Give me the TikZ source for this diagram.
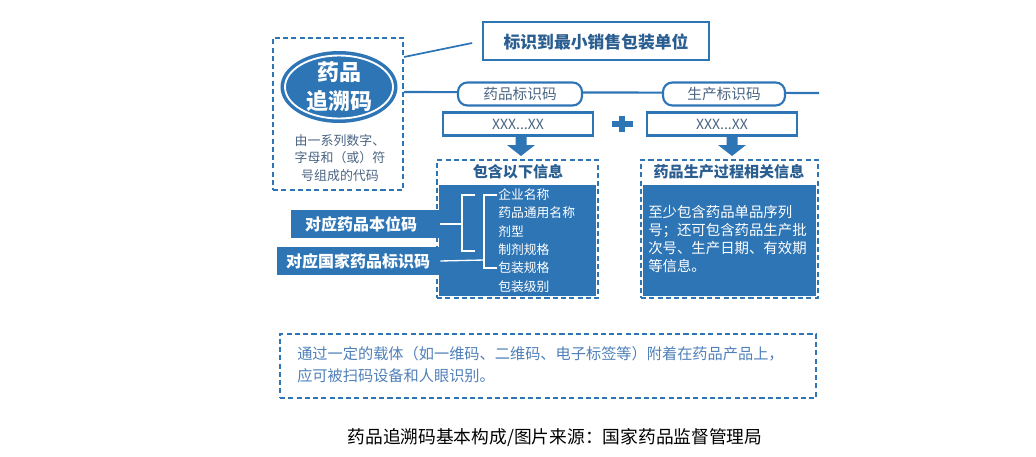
\documentclass[tikz,border=0pt]{standalone}
\usepackage{fontspec}
\setmainfont{Noto Sans CJK SC}
\usetikzlibrary{shapes.geometric,calc}
\definecolor{mblue}{HTML}{2E75B6}
\definecolor{dblue}{HTML}{2A5D90}
\definecolor{gtext}{HTML}{4A6482}
\definecolor{ltext}{HTML}{4F80B8}
\newcommand{\fs}[2]{\fontsize{#1pt}{#2pt}\selectfont}
\begin{document}
\begin{tikzpicture}[x=0.75pt,y=-0.75pt,
  dbox/.style={draw=mblue, line width=1.5pt, dash pattern=on 3.8pt off 2.4pt, fill=none},
  sbox/.style={draw=mblue, line width=1.6pt, fill=white, inner sep=0pt},
  rbox/.style={sbox, rounded corners=7pt},
  fillbox/.style={fill=mblue, inner sep=0pt},
  wtext/.style={text=white, inner sep=0pt},
  conn/.style={draw=mblue, line width=1.6pt},
  wline/.style={draw=white, line width=1pt},
  barrow/.style={fill=mblue, draw=none}
]
\useasboundingbox (0,0) rectangle (1036,457);

% top-left dashed box with ellipse
\node[dbox, minimum width=130*0.75pt, minimum height=152*0.75pt, inner sep=0pt] (tl) at (338,114) {};
\node[ellipse, fill=mblue, draw=mblue, line width=1.5pt, minimum width=115*0.75pt, minimum height=70*0.75pt, inner sep=0pt] (ell) at (339,87) {};
\node[ellipse, draw=white, line width=1.4pt, minimum width=108*0.75pt, minimum height=63*0.75pt, inner sep=0pt] (ellin) at (339,87) {};
\node[wtext, align=center, font=\fs{16.5}{22}\bfseries] (elltxt) at (339,87) {药品\\追溯码};
\node[text=gtext, align=center, inner sep=0pt, font=\fs{9.7}{13.2}] (desc) at (340,158) {由一系列数字、\\字母和（或）符\\号组成的代码};

% top label box
\node[sbox, minimum width=226*0.75pt, minimum height=38*0.75pt] (lab) at (596,41) {};
\node[text=dblue, inner sep=0pt, font=\fs{12.6}{15}\bfseries] (labtxt) at (596,42) {标识到最小销售包装单位};
\coordinate (tlc) at ($(tl.north east)+(0,20)$);
\draw[conn, line width=1.3pt, shorten >=10*0.75pt] (tlc) -- (lab.west);

% horizontal line with rounded boxes
\coordinate (tlr) at ($(tl.north east)+(0,55)$);
\coordinate (endR) at (819,93);
\draw[conn] (tlr) -- (endR);
\node[rbox, minimum width=124*0.75pt, minimum height=23*0.75pt] (rb1) at (520,94) {};
\node[text=gtext, inner sep=0pt, font=\fs{11}{13}] at (520,94) {药品标识码};
\node[rbox, minimum width=122*0.75pt, minimum height=23*0.75pt] (rb2) at (724,94) {};
\node[text=gtext, inner sep=0pt, font=\fs{11}{13}] at (724,94) {生产标识码};

% code boxes
\node[sbox, minimum width=150*0.75pt, minimum height=23*0.75pt] (xb1) at (518,124) {};
\node[text=gtext, inner sep=0pt, font=\fs{10.5}{13}] at (518,124) {XXX...XX};
\node[sbox, minimum width=150*0.75pt, minimum height=23*0.75pt] (xb2) at (722,124) {};
\node[text=gtext, inner sep=0pt, font=\fs{10.5}{13}] at (722,124) {XXX...XX};

% plus sign
\coordinate (plus) at (622,124);
\fill[mblue] ($(plus)+(-10.5,-3)$) rectangle ($(plus)+(10.5,3)$);
\fill[mblue] ($(plus)+(-3,-8)$) rectangle ($(plus)+(3,8)$);

% block arrows
\foreach \ax/\nm in {521/a1, 732/a2}{
  \coordinate (\nm) at (\ax,137);
  \fill[mblue] ($(\nm)+(-5.5,0)$) -- ($(\nm)+(5.5,0)$) -- ($(\nm)+(5.5,8)$) -- ($(\nm)+(14,8)$)
     -- ($(\nm)+(0,19)$) -- ($(\nm)+(-14,8)$) -- ($(\nm)+(-5.5,8)$) -- cycle;
}

% info box 1
\fill[mblue] (439,185) rectangle (596,296);
\node[dbox, minimum width=161*0.75pt, minimum height=138*0.75pt, inner sep=0pt] (box1) at (517.5,229) {};
\node[text=dblue, inner sep=0pt, font=\fs{11.3}{14}\bfseries] (t1) at (518,172) {包含以下信息};

% info box 2
\fill[mblue] (643,185) rectangle (816,296);
\node[dbox, minimum width=177*0.75pt, minimum height=138*0.75pt, inner sep=0pt] (box2) at (729.5,229) {};
\node[text=dblue, inner sep=0pt, font=\fs{11.3}{14}\bfseries] (t2) at (729,172) {药品生产过程相关信息};
\node[wtext, align=left, anchor=north west, font=\fs{10.8}{13.5}] (b2txt) at (648,205) {至少包含药品单品序列\\号；还可包含药品生产批\\次号、生产日期、有效期\\等信息。};

% list items
\foreach \yy/\tt/\nm in {195/企业名称/i1, 213/药品通用名称/i2, 232/剂型/i3, 250/制剂规格/i4, 268/包装规格/i5, 287/包装级别/i6}{
  \node[wtext, anchor=west, font=\fs{9.6}{12}] (\nm) at (498,\yy) {\tt};
}

% left labels
\node[fillbox, minimum width=149*0.75pt, minimum height=28*0.75pt] (l1) at (365.5,224) {};
\node[wtext, font=\fs{12}{14}\bfseries] at (361,224) {对应药品本位码};
\node[fillbox, minimum width=163*0.75pt, minimum height=28*0.75pt] (l2) at (358.5,261) {};
\node[wtext, font=\fs{12}{14}\bfseries] at (358,261) {对应国家药品标识码};

% brackets
\coordinate (bA) at (462,224);
\coordinate (bB) at (484,260);
\draw[wline] (l1.east) -- (bA);
\draw[wline] ($(bA)+(13,-29)$) -- ($(bA)+(0,-29)$) -- ($(bA)+(0,27)$) -- ($(bA)+(13,27)$);
\draw[wline] (l2.east) -- (bB);
\draw[wline] ($(i1.west)+(-1,0)$) -- ($(bB)+(0,-65)$) -- ($(bB)+(0,8)$) -- ($(i5.west)+(-1,0)$);

% bottom dashed box
\node[dbox, minimum width=536*0.75pt, minimum height=64*0.75pt, inner sep=0pt] (bot) at (548,366) {};
\node[text=ltext, align=left, anchor=north west, inner sep=0pt, font=\fs{11.4}{17}] (bottxt) at (297,346) {通过一定的载体（如一维码、二维码、电子标签等）附着在药品产品上，\\应可被扫码设备和人眼识别。};

% caption
\node[text=black, inner sep=0pt, font=\fs{13.3}{16}] (cap) at (555,438) {药品追溯码基本构成/图片来源：国家药品监督管理局};
\end{tikzpicture}
\end{document}
